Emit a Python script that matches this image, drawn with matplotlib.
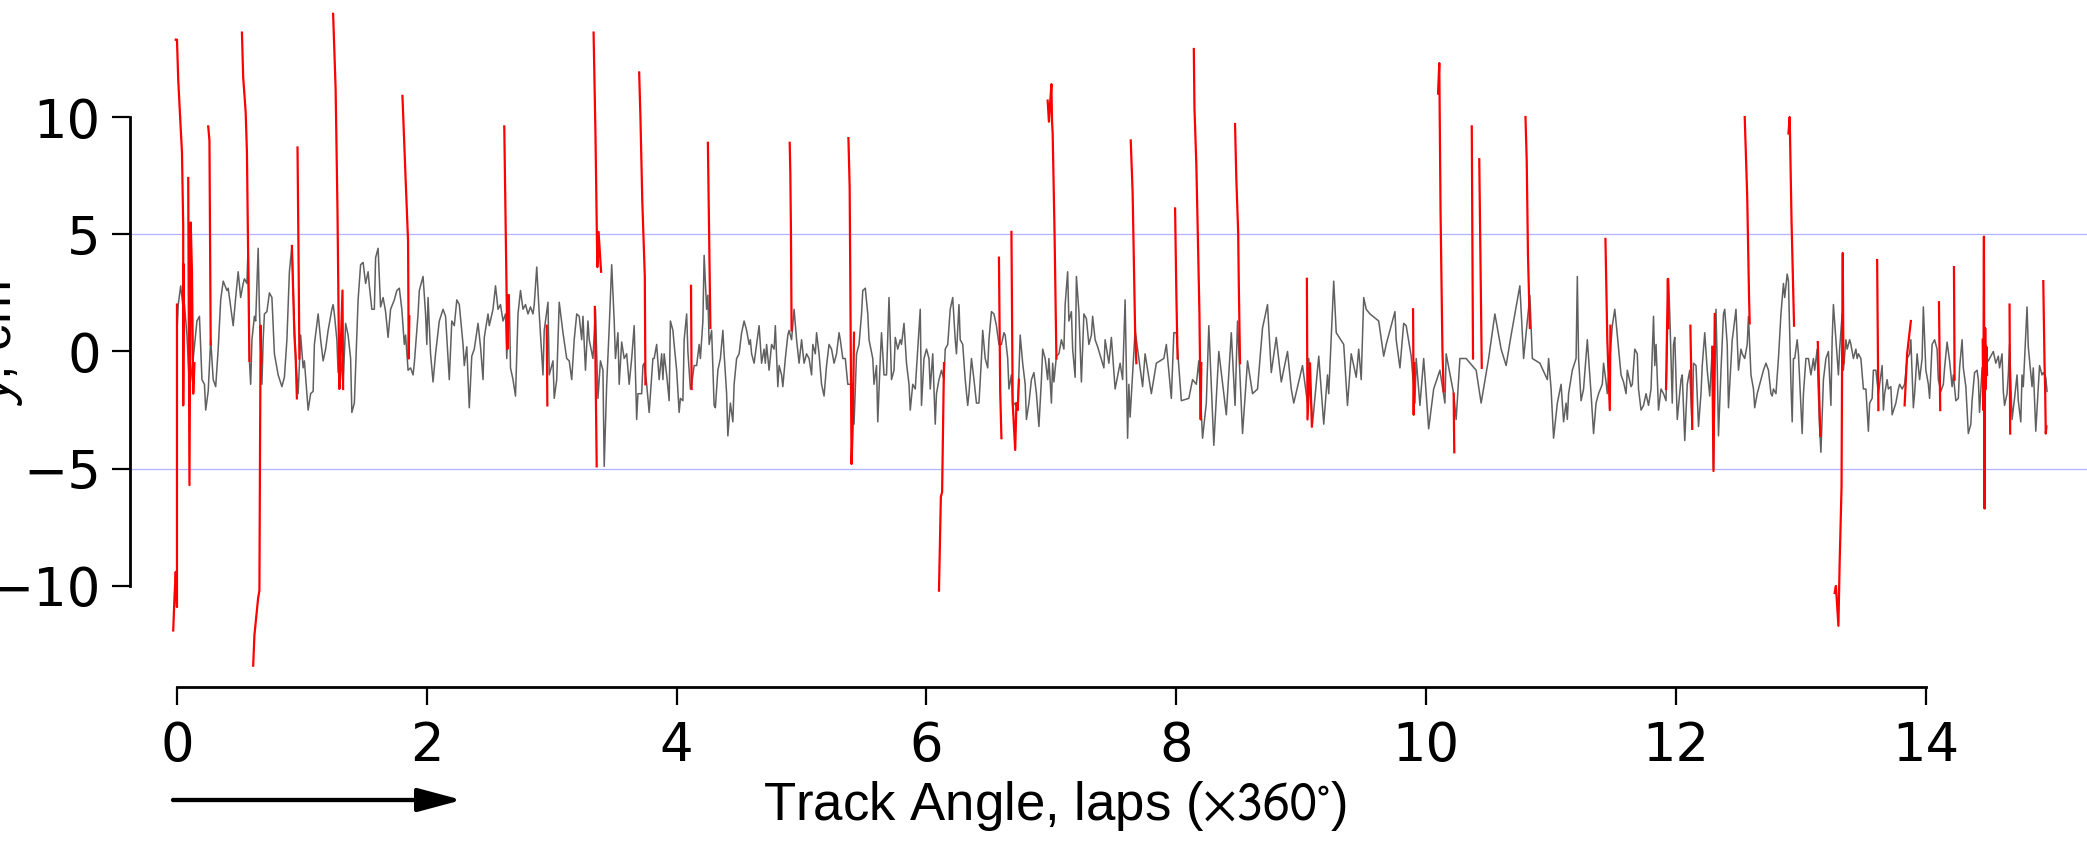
import matplotlib
matplotlib.use("Agg")
import matplotlib.pyplot as plt

plt.rcParams['font.family'] = ['DejaVu Sans']
plt.rcParams['mathtext.fontset'] = 'stixsans'

# gray trace: (track angle in laps, y in cm)
gray_pts = [
    (0.00, 0.8), (0.01, 2.0), (0.03, 2.8), (0.05, 1.8), (0.06, 2.0), (0.08, 0.7), (0.10, -1.6), (0.13, -0.3),
    (0.16, 1.3), (0.18, 1.5), (0.20, -1.2), (0.22, -1.4), (0.23, -2.5), (0.25, -1.7), (0.27, 0.5), (0.29, -1.2),
    (0.31, -1.5), (0.33, 0.1), (0.35, 2.2), (0.37, 3.0), (0.40, 2.6), (0.41, 2.7), (0.44, 1.5), (0.45, 1.1),
    (0.47, 2.3), (0.49, 3.4), (0.51, 2.3), (0.53, 2.9), (0.54, 3.1), (0.56, 2.9), (0.57, 4.6), (0.58, -0.4),
    (0.59, -1.4), (0.60, 0.5), (0.62, 1.5), (0.63, 1.3), (0.65, 4.4), (0.66, 1.8), (0.68, -1.4), (0.69, 0.5),
    (0.70, 1.6), (0.72, 1.7), (0.74, 2.5), (0.76, 2.3), (0.78, -0.1), (0.81, -1.0), (0.84, -1.5), (0.86, -1.1),
    (0.88, 0.5), (0.90, 3.4), (0.92, 4.5), (0.94, 1.1), (0.95, -0.3), (0.97, -1.8), (0.99, 0.7), (1.01, -0.7),
    (1.02, -0.4), (1.05, -2.5), (1.07, -1.8), (1.09, -1.7), (1.10, 0.3), (1.13, 1.6), (1.15, 0.5), (1.17, -0.4),
    (1.19, 0.1), (1.21, 0.9), (1.24, 1.8), (1.25, 2.0), (1.26, 1.6), (1.28, 0.5), (1.29, -0.9), (1.31, -0.3),
    (1.33, -1.4), (1.35, 1.2), (1.37, 0.7), (1.39, -0.3), (1.40, -2.6), (1.42, -2.2), (1.45, 2.2), (1.47, 3.7),
    (1.49, 3.8), (1.51, 2.9), (1.53, 3.4), (1.54, 2.8), (1.56, 1.8), (1.58, 1.8), (1.59, 4.0), (1.61, 4.4),
    (1.63, 1.9), (1.65, 2.3), (1.67, 1.7), (1.69, 0.6), (1.71, 1.8), (1.74, 2.2), (1.76, 2.6), (1.78, 2.7),
    (1.80, 1.8), (1.82, 0.3), (1.83, 0.7), (1.85, -0.8), (1.87, -0.7), (1.89, -1.0), (1.90, -0.5), (1.93, 1.6),
    (1.94, 2.6), (1.97, 3.2), (1.99, 1.6), (2.00, 0.3), (2.01, 2.3), (2.03, -0.1), (2.05, -1.3), (2.07, -0.1),
    (2.10, 1.3), (2.13, 1.8), (2.15, 1.5), (2.18, -1.2), (2.20, 1.3), (2.22, 1.1), (2.24, 2.2), (2.26, 2.0),
    (2.29, 0.3), (2.30, -0.6), (2.32, 0.2), (2.34, -2.4), (2.36, -0.2), (2.38, 0.1), (2.41, 1.2), (2.43, 0.2),
    (2.45, -1.2), (2.46, 0.6), (2.49, 1.6), (2.50, 1.1), (2.53, 1.8), (2.55, 2.8), (2.57, 1.8), (2.59, 2.0),
    (2.61, 1.3), (2.63, 1.6), (2.64, -0.3), (2.66, 2.4), (2.67, -0.7), (2.69, -1.2), (2.71, -1.9), (2.73, 1.6),
    (2.75, 2.6), (2.77, 1.8), (2.79, 2.0), (2.81, 1.6), (2.83, 1.9), (2.85, 1.6), (2.86, 2.0), (2.88, 3.6),
    (2.90, 1.6), (2.93, -1.0), (2.94, 0.9), (2.97, 2.1), (2.98, -1.0), (3.01, -0.4), (3.02, -2.0), (3.04, -1.2),
    (3.06, 2.1), (3.09, 0.8), (3.12, -0.3), (3.14, -0.4), (3.16, -1.2), (3.18, 0.5), (3.20, 1.6), (3.22, 1.5),
    (3.24, 0.5), (3.25, 1.5), (3.27, -0.8), (3.29, 1.3), (3.30, 0.5), (3.33, -0.3), (3.35, 1.8), (3.37, -2.0),
    (3.39, -0.4), (3.41, -0.8), (3.42, -4.9), (3.44, -1.4), (3.46, 1.0), (3.48, 3.7), (3.50, 1.3), (3.51, -0.3),
    (3.53, 0.8), (3.54, -1.4), (3.56, 0.4), (3.58, -0.3), (3.60, -0.1), (3.62, -1.4), (3.64, -0.3), (3.66, 1.1),
    (3.68, -2.9), (3.69, -1.8), (3.72, -1.8), (3.73, -0.6), (3.74, -0.5), (3.76, -1.4), (3.78, -2.6),
    (3.81, -0.3), (3.82, -0.3), (3.84, 0.3), (3.86, -1.2), (3.88, -0.1), (3.89, -1.2), (3.90, -0.1), (3.92, -1.0),
    (3.94, -2.1), (3.95, 1.3), (3.97, 0.9), (3.98, 0.3), (4.00, -0.8), (4.02, -2.6), (4.03, -2.0), (4.05, -2.1),
    (4.06, 0.5), (4.08, 1.6), (4.09, 0.0), (4.11, -1.6), (4.12, -1.4), (4.14, -0.6), (4.16, -0.6), (4.18, 0.3),
    (4.19, -0.3), (4.21, 1.3), (4.22, 4.1), (4.24, 1.8), (4.25, 2.4), (4.26, 0.3), (4.28, 0.9), (4.30, -2.3),
    (4.31, -2.4), (4.33, -0.8), (4.35, -0.3), (4.37, 0.9), (4.38, -0.1), (4.40, -1.8), (4.41, -3.6), (4.43, -2.2),
    (4.45, -3.0), (4.46, -1.4), (4.48, -0.3), (4.50, -0.1), (4.52, 0.8), (4.54, 1.3), (4.56, 0.9), (4.58, 0.3),
    (4.59, 0.5), (4.60, -0.1), (4.62, -0.5), (4.64, 0.3), (4.66, 1.1), (4.68, -0.5), (4.70, 0.1), (4.71, -0.5),
    (4.72, 0.3), (4.74, -0.8), (4.76, 0.3), (4.78, 0.1), (4.79, 1.1), (4.81, -1.5), (4.82, -0.6), (4.84, -1.0),
    (4.85, -1.5), (4.87, -0.3), (4.89, 0.7), (4.90, 0.9), (4.92, 0.5), (4.94, 1.8), (4.96, 0.5), (4.98, -0.5),
    (5.00, 0.5), (5.02, -0.5), (5.04, -0.1), (5.06, -0.3), (5.08, -1.0), (5.09, 0.3), (5.11, -0.1), (5.12, 0.8),
    (5.14, -0.1), (5.16, -1.4), (5.18, -1.9), (5.20, -0.6), (5.22, 0.3), (5.24, 0.1), (5.26, -0.5), (5.28, -0.1),
    (5.30, 0.8), (5.31, 0.5), (5.33, -0.3), (5.35, -0.3), (5.37, -1.4), (5.39, -1.4), (5.41, -1.4), (5.42, -3.1),
    (5.44, -0.1), (5.46, 0.3), (5.48, 1.6), (5.49, 2.6), (5.51, 2.7), (5.53, 1.6), (5.54, 0.5), (5.57, -0.3),
    (5.58, -1.4), (5.60, -0.6), (5.61, -3.0), (5.63, -0.3), (5.64, 0.8), (5.66, -1.0), (5.68, -1.0), (5.70, 2.3),
    (5.72, -1.2), (5.74, -0.8), (5.75, 0.6), (5.77, 0.1), (5.79, 0.5), (5.80, 0.3), (5.82, 1.2), (5.84, -0.5),
    (5.86, -1.4), (5.87, -2.5), (5.89, -1.4), (5.91, -1.6), (5.93, 0.1), (5.95, 1.8), (5.96, -2.3), (5.98, -0.3),
    (6.00, 0.1), (6.02, -0.3), (6.03, -1.6), (6.05, -0.1), (6.07, -3.1), (6.08, -1.8), (6.10, -1.2), (6.12, -0.8),
    (6.14, -1.2), (6.15, 0.1), (6.17, 0.3), (6.19, 1.8), (6.21, 2.3), (6.23, 0.5), (6.24, -0.1), (6.26, 2.0),
    (6.27, 0.5), (6.29, 0.3), (6.31, -1.2), (6.33, -2.3), (6.34, -1.8), (6.36, -0.3), (6.38, -1.2), (6.40, -2.2),
    (6.42, -2.2), (6.44, -0.3), (6.45, 0.9), (6.47, -0.3), (6.49, -0.7), (6.50, 0.5), (6.52, 1.7), (6.54, 1.6),
    (6.56, 1.1), (6.57, 0.7), (6.58, 0.3), (6.60, 0.3), (6.62, 0.8), (6.63, 0.7), (6.65, -0.3), (6.66, -1.6),
    (6.68, -1.0), (6.69, -2.3), (6.71, -2.2), (6.73, -2.5), (6.75, 0.7), (6.77, -0.5), (6.79, -1.4), (6.80, -2.9),
    (6.82, -2.2), (6.84, -1.2), (6.86, -0.9), (6.88, -1.8), (6.90, -3.2), (6.92, -1.2), (6.93, 0.1), (6.95, -0.3),
    (6.97, -1.2), (6.98, -0.3), (7.00, -2.2), (7.01, -0.5), (7.02, -1.3), (7.04, -0.2), (7.06, -0.1), (7.08, 0.5),
    (7.10, 0.1), (7.11, 2.0), (7.13, 3.4), (7.14, 1.3), (7.16, 1.7), (7.17, 0.1), (7.19, -1.1), (7.20, 3.2),
    (7.22, 1.7), (7.24, -1.3), (7.26, 1.6), (7.28, 1.4), (7.30, 0.3), (7.32, 0.7), (7.33, 1.5), (7.35, 0.5),
    (7.37, 0.2), (7.42, -0.7), (7.43, 0.5), (7.46, -0.5), (7.48, 0.6), (7.51, -1.6), (7.55, -0.5), (7.57, -1.2),
    (7.59, 2.2), (7.61, -3.7), (7.62, -1.4), (7.63, -2.8), (7.67, 0.9), (7.73, -1.5), (7.75, -0.1), (7.80, -1.8),
    (7.84, -0.5), (7.90, -0.3), (7.92, 0.3), (7.96, -2.0), (7.98, 0.8), (8.00, 0.8), (8.04, -2.1), (8.10, -2.0),
    (8.13, -1.2), (8.16, -1.4), (8.18, -0.4), (8.21, -3.7), (8.24, -2.2), (8.26, 1.1), (8.30, -4.0), (8.34, 0.0),
    (8.40, -2.7), (8.44, 0.8), (8.47, -2.3), (8.49, 1.3), (8.53, -3.5), (8.57, -0.4), (8.61, -1.8), (8.65, -1.6),
    (8.69, 1.0), (8.73, 2.0), (8.76, -0.9), (8.80, 0.6), (8.84, -1.3), (8.89, 0.0), (8.92, -1.6), (8.94, -2.2),
    (9.01, -0.6), (9.05, -2.2), (9.06, -0.3), (9.09, -3.1), (9.14, -0.2), (9.18, -3.1), (9.21, -1.0), (9.22, -1.8),
    (9.26, 3.0), (9.28, 0.8), (9.34, 0.3), (9.37, -2.3), (9.40, -0.1), (9.44, -1.1), (9.46, 0.1), (9.48, -1.2),
    (9.50, 2.3), (9.52, 1.8), (9.55, 1.6), (9.62, 1.3), (9.66, -0.2), (9.68, 0.3), (9.75, 1.7), (9.76, 0.5),
    (9.79, -0.7), (9.82, 1.2), (9.84, 1.1), (9.88, -0.2), (9.91, -2.2), (9.92, -0.3), (9.95, -2.3), (9.98, -0.3),
    (10.02, -3.3), (10.06, -1.6), (10.11, -0.8), (10.15, -2.2), (10.16, -0.1), (10.22, -1.8), (10.24, -2.9),
    (10.27, -0.3), (10.32, -0.3), (10.40, -0.8), (10.44, -2.2), (10.50, -0.3), (10.55, 1.6), (10.60, 0.1),
    (10.64, -0.6), (10.68, 0.7), (10.75, 2.8), (10.78, -0.3), (10.83, 2.4), (10.85, -0.3), (10.91, -0.5),
    (10.97, -1.2), (10.98, -0.3),
    (11.00, -1.6), (11.02, -3.7), (11.05, -2.2), (11.08, -1.4), (11.10, -3.0), (11.12, -2.2), (11.13, -2.9),
    (11.14, -1.8), (11.17, -0.8), (11.20, -0.3), (11.21, 3.2), (11.22, -0.3), (11.24, -2.1), (11.26, -1.6),
    (11.29, 0.5), (11.32, -1.8), (11.34, -3.5), (11.36, -2.2), (11.38, -1.8), (11.41, -1.4), (11.42, -0.5),
    (11.44, -1.3), (11.45, -1.8), (11.49, 1.1), (11.51, 1.8), (11.53, 0.7), (11.56, -1.0), (11.58, -1.3),
    (11.60, -1.8), (11.61, -0.8), (11.64, -1.5), (11.65, -1.4), (11.67, 0.1), (11.69, -0.1), (11.70, -1.6),
    (11.72, -2.5), (11.74, -2.3), (11.76, -1.8), (11.78, -2.3), (11.80, -1.6), (11.82, 1.5), (11.83, -0.6),
    (11.84, 0.3), (11.86, -2.5), (11.88, -1.6), (11.90, -1.8), (11.92, -2.1), (11.94, 3.1), (11.95, 1.6),
    (11.97, -2.2), (11.98, 0.3), (11.99, 0.6), (12.01, -2.9), (12.04, -1.2), (12.05, -1.0), (12.07, -3.8),
    (12.09, -1.4), (12.11, -0.8), (12.13, -3.3), (12.14, -0.5), (12.16, -0.6), (12.18, -3.2), (12.20, -1.8),
    (12.21, -0.6), (12.23, 0.8), (12.25, -0.8), (12.27, -1.9), (12.29, 0.1), (12.30, -5.0), (12.32, 1.8),
    (12.33, -0.6), (12.34, -3.6), (12.36, -0.8), (12.38, 1.6), (12.39, 1.8), (12.41, 0.3), (12.42, -2.4),
    (12.45, 0.5), (12.46, 0.9), (12.48, 1.8), (12.49, 0.5), (12.50, -0.8), (12.52, 0.1), (12.53, -0.1),
    (12.55, -0.3), (12.57, 0.3), (12.58, 1.5), (12.60, -1.0), (12.62, -1.6), (12.63, -2.4), (12.65, -1.8),
    (12.66, -1.6), (12.68, -1.2), (12.70, -0.8), (12.72, -0.5), (12.74, -0.8), (12.76, -1.8), (12.77, -1.9),
    (12.78, -1.6), (12.80, -1.8), (12.82, -0.3), (12.84, 1.6), (12.86, 2.9), (12.87, 2.3), (12.89, 3.3),
    (12.90, 3.0), (12.92, -1.4), (12.93, -3.0), (12.94, -0.3), (12.95, -0.3), (12.97, 0.5), (12.98, -0.1),
    (13.01, -3.5), (13.02, -1.8), (13.04, -0.3), (13.06, -0.3), (13.08, -1.0), (13.10, -0.3), (13.11, -0.8),
    (13.13, 0.1), (13.14, -1.8), (13.15, -3.3), (13.16, -4.3), (13.17, -2.7), (13.18, -1.2), (13.20, -0.3),
    (13.22, 0.0), (13.24, -2.3), (13.25, 0.5), (13.26, 2.0), (13.28, 0.5), (13.30, -1.0), (13.31, 0.1),
    (13.33, 1.6), (13.34, -0.8), (13.36, 0.5), (13.37, 0.1), (13.39, 0.5), (13.40, 0.3), (13.42, -0.3),
    (13.44, 0.1), (13.45, -0.3), (13.46, -0.1), (13.48, -0.3), (13.50, -1.6), (13.52, -1.6), (13.54, -3.4),
    (13.55, -2.2), (13.57, -2.0), (13.58, -0.8), (13.60, -0.8), (13.62, -1.8), (13.63, -1.4), (13.65, -0.6),
    (13.66, -2.5), (13.67, -1.8), (13.69, -1.2), (13.70, -1.6), (13.72, -1.5), (13.73, -2.7), (13.76, -2.2),
    (13.78, -1.6), (13.79, -1.4), (13.81, -1.6), (13.83, -1.4), (13.85, -0.3), (13.87, -0.1), (13.88, 0.5),
    (13.90, -2.4), (13.91, -1.8), (13.93, -0.1), (13.95, -1.2), (13.97, -0.3), (13.98, 1.9), (14.00, -0.8),
    (14.02, -1.4), (14.03, -2.0), (14.05, 0.3), (14.07, 0.5), (14.09, 0.1),
    (14.10, -1.2), (14.12, -1.7), (14.14, -1.4), (14.15, -0.7), (14.17, 0.4), (14.19, -0.4), (14.21, -1.5),
    (14.22, -1.0), (14.24, -2.1), (14.26, -2.0), (14.27, -0.7), (14.29, 0.5), (14.30, -0.7), (14.32, -1.5),
    (14.34, -3.5), (14.36, -3.1), (14.37, -2.1), (14.39, -0.9), (14.41, -0.8), (14.42, -1.2), (14.43, -2.6),
    (14.45, -0.7), (14.50, -0.4), (14.53, -0.1), (14.54, 0.0), (14.56, -0.5), (14.58, -0.2), (14.59, -0.7),
    (14.61, -0.1), (14.62, -1.7), (14.63, -2.3), (14.65, -1.8), (14.66, -1.0), (14.67, 0.3), (14.69, -2.9),
    (14.71, -2.0), (14.73, -1.0), (14.74, -2.1), (14.76, -3.0), (14.77, -1.0), (14.78, -1.5), (14.80, 0.8),
    (14.81, 1.9), (14.82, 0.2), (14.85, -1.5), (14.86, -0.7), (14.88, -3.4), (14.90, -1.5), (14.91, -0.6),
    (14.93, -1.0), (14.94, -0.9), (14.96, -1.1), (14.97, -1.7),
]

# red spikes: each one is a short run of (laps, y)
spikes = [
    [(-0.03, -11.9), (-0.02, -10.5), (-0.01, -9.4), (0.0, -10.9), (0.0, 2.0)],
    [(-0.01, 13.3), (0.0, 13.3), (0.01, 11.6), (0.03, 9.5), (0.04, 8.5), (0.05, 5.3), (0.05, -2.3), (0.055, 3.7)],
    [(0.09, 7.4), (0.10, -5.7), (0.11, 5.5), (0.12, 3.4), (0.13, -1.8), (0.14, -0.5)],
    [(0.25, 9.6), (0.26, 9.0), (0.27, 0.3)],
    [(0.52, 13.6), (0.53, 11.7), (0.55, 10.2), (0.56, 8.5), (0.57, 4.0), (0.58, -0.4)],
    [(0.61, -13.4), (0.62, -12.1), (0.65, -10.5), (0.66, -10.2), (0.665, -4.0), (0.67, 1.1), (0.675, -0.5)],
    [(0.92, 4.5), (0.94, 0.7), (0.95, -0.2), (0.96, -2.0)],
    [(0.965, 8.7), (0.975, 3.0), (0.98, -0.3)],
    [(1.25, 14.4), (1.27, 11.2), (1.285, 6.0), (1.30, -1.6), (1.31, 0.0), (1.325, 2.6), (1.33, -1.6)],
    [(1.805, 10.9), (1.83, 7.4), (1.85, 4.7), (1.855, -0.3), (1.86, 1.5)],
    [(2.62, 9.6), (2.645, 0.1), (2.655, 2.4)],
    [(2.96, 1.1), (2.965, -2.3)],
    [(3.335, 13.6), (3.35, 9.3), (3.365, 3.6), (3.375, 5.1), (3.395, 3.4)],
    [(3.345, 1.9), (3.36, -4.9)],
    [(3.70, 11.9), (3.71, 10.0), (3.725, 6.4), (3.745, 3.2), (3.75, -1.4)],
    [(4.115, 2.8), (4.12, -1.6)],
    [(4.25, 8.9), (4.26, 5.0), (4.27, 1.0)],
    [(4.905, 8.9), (4.91, 7.6), (4.915, 5.1), (4.92, 0.9)],
    [(5.375, 9.1), (5.385, 7.0), (5.40, -4.8), (5.41, -3.1), (5.42, 0.8)],
    [(6.10, -10.2), (6.115, -6.2), (6.125, -6.0), (6.14, -0.5)],
    [(6.58, 4.0), (6.59, -1.7), (6.60, -3.7)],
    [(6.68, 5.1), (6.69, -2.2), (6.71, -4.2), (6.72, -2.2), (6.73, -2.5), (6.74, -1.2)],
    [(6.97, 10.7), (6.98, 9.8), (6.99, 10.6), (7.00, 11.4), (7.005, 9.8), (7.01, 9.3), (7.025, 5.1), (7.04, -0.3)],
    [(7.635, 9.0), (7.65, 6.8), (7.67, 0.9), (7.68, -0.5)],
    [(7.99, 6.1), (8.0, 2.5), (8.01, -0.3)],
    [(8.14, 12.9), (8.145, 10.4), (8.16, 8.0), (8.17, 5.5), (8.185, 1.6), (8.195, -2.9), (8.20, -0.5)],
    [(8.47, 9.7), (8.48, 7.4), (8.495, 5.1), (8.50, 2.9), (8.51, -0.5)],
    [(9.045, 3.1), (9.05, -2.9), (9.07, -0.5), (9.085, -3.2)],
    [(9.895, 1.8), (9.90, -2.7), (9.905, -0.5)],
    [(10.095, 11.0), (10.105, 12.3), (10.115, 6.0), (10.13, 0.1), (10.14, -1.7)],
    [(10.22, -1.8), (10.225, -4.3)],
    [(10.365, 9.6), (10.375, -0.3)],
    [(10.425, 8.2), (10.445, -0.7)],
    [(10.795, 10.0), (10.805, 8.1), (10.815, 4.1), (10.83, 1.0)],
    [(11.435, 4.8), (11.45, 0.5), (11.47, -2.5), (11.475, 1.1)],
    [(11.92, -1.6), (11.935, 3.1), (11.94, 1.0)],
    [(12.115, 1.1), (12.13, -3.3)],
    [(12.29, 0.2), (12.30, -5.1), (12.31, 1.6)],
    [(12.55, 10.0), (12.57, 6.6), (12.585, 2.2), (12.59, 1.2)],
    [(12.90, 9.3), (12.91, 10.0), (12.925, 5.5), (12.945, 1.1)],
    [(13.135, 0.4), (13.155, -3.6)],
    [(13.27, -10.3), (13.28, -10.0), (13.30, -11.7), (13.31, -9.0), (13.325, -5.8), (13.33, 0.0), (13.335, 4.2), (13.34, -0.5)],
    [(13.61, 3.9), (13.62, -2.5)],
    [(13.83, -2.3), (13.85, -0.1), (13.88, 1.3)],
    [(14.105, 2.1), (14.115, -2.5)],
    [(14.225, 3.6), (14.23, -1.2)],
    [(14.455, 0.5), (14.46, -2.5), (14.465, 4.9), (14.47, -6.7), (14.475, 1.0), (14.48, -1.6), (14.485, 0.2), (14.49, -1.0)],
    [(14.67, 2.0), (14.675, -3.5)],
    [(14.94, 3.0), (14.95, -0.5), (14.955, -1.6), (14.96, -3.5), (14.965, -3.2)],
]

band = [-5, 5]
xticks = [0, 2, 4, 6, 8, 10, 12, 14]
yticks = [-10, -5, 0, 5, 10]

fig = plt.figure(figsize=(20.87, 8.41), dpi=100)
ax = fig.add_axes([130 / 2087, 154 / 841, 1957 / 2087, 687 / 841])

gx, gy = zip(*gray_pts)
ax.plot(gx, gy, color='#606060', lw=1.1, zorder=2)
for sp in spikes:
    sx, sy = zip(*sp)
    ax.plot(sx, sy, color='red', lw=1.6, zorder=3)

for b in band:
    ax.axhline(b, color='blue', alpha=0.3, lw=0.9, zorder=1)

ax.set_xlim(-0.376, 15.29)
ax.set_ylim(-14.31, 14.99)

for s in ['top', 'right']:
    ax.spines[s].set_visible(False)
ax.spines['left'].set_bounds(-10, 10)
ax.spines['bottom'].set_bounds(0, 14)
for s in ['left', 'bottom']:
    ax.spines[s].set_linewidth(2.0)

ax.set_xticks(xticks)
ax.set_yticks(yticks)
ax.tick_params(axis='both', which='major', length=13, width=1.6, pad=8, labelsize=38)
ax.tick_params(axis='x', pad=11)

ax.set_xlabel('Track Angle, laps ($\\times 360^{\\circ}$)', family='Liberation Sans', fontsize=38)
ax.xaxis.set_label_coords(0.4727, -0.134)
ax.set_ylabel('$y$, cm', family='Liberation Sans', fontsize=38)
ax.yaxis.set_label_coords(-0.0536, 0.5)

# direction arrow under the axis
ax.annotate('', xy=(462, 41), xytext=(173, 41), xycoords='figure pixels', textcoords='figure pixels',
            arrowprops=dict(arrowstyle='-|>,head_length=27,head_width=7.2', mutation_scale=1,
                            lw=3.1, color='black', shrinkA=0, shrinkB=0))

fig.savefig('out.png', dpi=100)
